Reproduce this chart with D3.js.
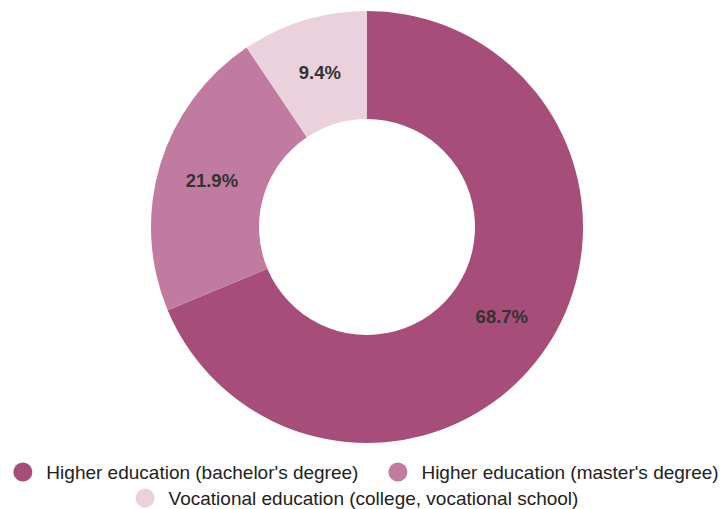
<!DOCTYPE html>
<html>
<head>
<meta charset="utf-8">
<script src="https://cdn.jsdelivr.net/npm/d3@7"></script>
<style>
  html, body { margin: 0; padding: 0; background: #fff; }
  svg { display: block; font-family: "Liberation Sans", Arial, sans-serif; }
</style>
</head>
<body>
<svg id="chart" width="722" height="509"></svg>
<script>
// Share of respondents by education level (percent)
const categories = [
  "Higher education (bachelor's degree)",
  "Higher education (master's degree)",
  "Vocational education (college, vocational school)"
];
const values = [68.7, 21.9, 9.4];
const colors = ["#a64d79", "#c27ba0", "#ead1dc"];

const svg = d3.select("#chart");
const cx = 367, cy = 227, outerR = 216, innerR = 108;

const pie = d3.pie().sort(null).value(d => d);
const arc = d3.arc().innerRadius(innerR).outerRadius(outerR);
const labelArc = d3.arc().innerRadius((innerR + outerR) / 2).outerRadius((innerR + outerR) / 2);

const g = svg.append("g").attr("transform", `translate(${cx},${cy})`);
const arcs = pie(values);

g.selectAll("path.slice")
  .data(arcs)
  .join("path")
  .attr("class", "slice")
  .attr("d", arc)
  .attr("fill", (d, i) => colors[i]);

g.selectAll("text.pct")
  .data(arcs)
  .join("text")
  .attr("class", "pct")
  .attr("transform", d => `translate(${labelArc.centroid(d)})`)
  .attr("text-anchor", "middle")
  .attr("dominant-baseline", "central")
  .attr("font-size", 18.5)
  .attr("font-weight", "bold")
  .attr("fill", "#333333")
  .text(d => d.data.toFixed(1) + "%");

// Legend: two rows, each centred on its own midpoint
const legendRows = [[0, 1], [2]];
const rowY = [472, 498];
const rowMid = [366, 357];
const fontSize = 19, dotR = 9.5, dotGap = 23.5, itemGap = 30;

legendRows.forEach((row, r) => {
  const lg = svg.append("g");
  let x = 0;
  row.forEach((idx, k) => {
    const item = lg.append("g").attr("transform", `translate(${x},0)`);
    item.append("circle").attr("cx", dotR).attr("cy", 0).attr("r", dotR).attr("fill", colors[idx]);
    const t = item.append("text")
      .attr("x", dotR + dotGap)
      .attr("y", 0)
      .attr("dominant-baseline", "central")
      .attr("font-size", fontSize)
      .attr("fill", "#222")
      .text(categories[idx]);
    const w = t.node().getComputedTextLength();
    x += dotR + dotGap + w + (k < row.length - 1 ? itemGap : 0);
  });
  lg.attr("transform", `translate(${rowMid[r] - x / 2},${rowY[r]})`);
});
</script>
</body>
</html>
